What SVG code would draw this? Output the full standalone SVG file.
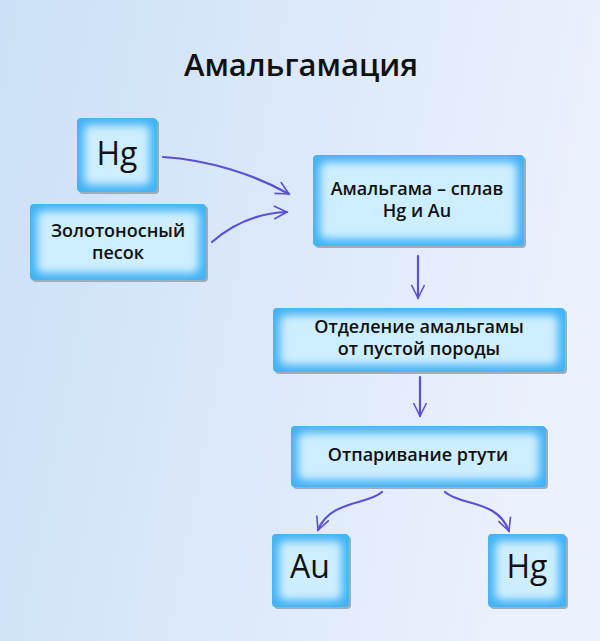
<svg xmlns="http://www.w3.org/2000/svg" width="600" height="641" viewBox="0 0 600 641">
<defs>
<linearGradient id="bg" x1="0" y1="0" x2="1" y2="0.2">
<stop offset="0" stop-color="#cbe0f6"/>
<stop offset="1" stop-color="#ebf1fd"/>
</linearGradient>
<filter id="blur" x="-20%" y="-20%" width="140%" height="140%">
<feGaussianBlur stdDeviation="4"/>
</filter>
<marker id="ah" viewBox="0 0 16 16" refX="14" refY="8" markerWidth="16" markerHeight="16" markerUnits="userSpaceOnUse" orient="auto">
<path d="M1,1.5 L14,8 L1,14.5" fill="none" stroke="#5a4fd6" stroke-width="1.6" stroke-linejoin="miter"/>
</marker>
</defs>
<style>
.sh{fill:#8e9ba8;opacity:0.8}
.edge{fill:#42b2f4}
.glow{fill:#cdeeff}
.t{font-family:"Open Sans","DejaVu Sans",sans-serif;fill:#111;text-anchor:middle}
.big{font-size:32px;font-weight:400}
.mid{font-size:18px;font-weight:600}
.conn path{fill:none;stroke:#5a4fd6;stroke-width:2.2;stroke-linecap:round;marker-end:url(#ah)}
</style>
<rect width="600" height="641" fill="url(#bg)"/>
<text class="t" x="301" y="76" style="font-size:31px;font-weight:600">Амальгамация</text>

<g id="n-hg-in">
<rect class="sh" x="79" y="120" width="80" height="74" rx="4"/>
<rect class="edge" x="77" y="118" width="80" height="74" rx="4"/>
<rect class="glow" x="84" y="125" width="66" height="60" rx="6" filter="url(#blur)"/>
<text class="t big" x="117" y="165">Hg</text>
</g>

<g id="n-sand">
<rect class="sh" x="32" y="206" width="176" height="76" rx="4"/>
<rect class="edge" x="30" y="204" width="176" height="76" rx="4"/>
<rect class="glow" x="37" y="211" width="162" height="62" rx="6" filter="url(#blur)"/>
<text class="t mid" x="118" y="237">Золотоносный</text>
<text class="t mid" x="118" y="259">песок</text>
</g>

<g id="n-amalgam">
<rect class="sh" x="315" y="157" width="211" height="91" rx="4"/>
<rect class="edge" x="313" y="155" width="211" height="91" rx="4"/>
<rect class="glow" x="320" y="162" width="197" height="77" rx="6" filter="url(#blur)"/>
<text class="t mid" x="417" y="195">Амальгама – сплав</text>
<text class="t mid" x="417" y="217">Hg и Au</text>
</g>

<g id="n-separate">
<rect class="sh" x="275" y="310" width="292" height="64" rx="4"/>
<rect class="edge" x="273" y="308" width="292" height="64" rx="4"/>
<rect class="glow" x="280" y="315" width="278" height="50" rx="6" filter="url(#blur)"/>
<text class="t mid" x="419" y="333">Отделение амальгамы</text>
<text class="t mid" x="419" y="355">от пустой породы</text>
</g>

<g id="n-steam">
<rect class="sh" x="293" y="428" width="255" height="61" rx="4"/>
<rect class="edge" x="291" y="426" width="255" height="61" rx="4"/>
<rect class="glow" x="298" y="433" width="241" height="47" rx="6" filter="url(#blur)"/>
<text class="t mid" x="418" y="461">Отпаривание ртути</text>
</g>

<g id="n-au">
<rect class="sh" x="274" y="536" width="77" height="73" rx="4"/>
<rect class="edge" x="272" y="534" width="77" height="73" rx="4"/>
<rect class="glow" x="279" y="541" width="63" height="59" rx="6" filter="url(#blur)"/>
<text class="t big" x="310" y="578">Au</text>
</g>

<g id="n-hg-out">
<rect class="sh" x="490" y="536" width="78" height="73" rx="4"/>
<rect class="edge" x="488" y="534" width="78" height="73" rx="4"/>
<rect class="glow" x="495" y="541" width="64" height="59" rx="6" filter="url(#blur)"/>
<text class="t big" x="527" y="578">Hg</text>
</g>

<g id="connectors" class="conn">
<path d="M163,157 C210,160 255,175 289,194"/>
<path d="M212,242 C235,222 260,213 287,212"/>
<path d="M418,256 L418,298"/>
<path d="M420,377 L420,416"/>
<path d="M382,492 C368,505 330,500 318,530"/>
<path d="M445,492 C460,506 497,499 509,531"/>
</g>
</svg>
